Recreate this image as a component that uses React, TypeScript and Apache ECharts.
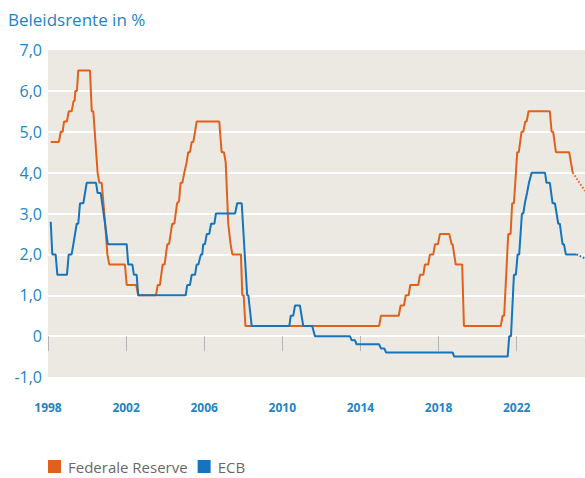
import React, { useEffect, useRef } from "react";
import * as echarts from "echarts";

const title = "Beleidsrente in %";
const seriesNames = ["Federale Reserve", "ECB"];
const xTickYears = [1998, 2002, 2006, 2010, 2014, 2018, 2022];
const yTicks = [-1, 0, 1, 2, 3, 4, 5, 6, 7];

const fedYears = [
  1998.14, 1998.56, 1998.65, 1998.75, 1998.82, 1998.97, 1999.06, 1999.21, 1999.31, 1999.36,
  1999.40, 1999.48, 1999.55, 2000.15, 2000.24, 2000.32, 2000.54, 2000.63, 2000.75, 2000.92,
  2001.04, 2001.14, 2001.94, 2002.03, 2002.52, 2002.62, 2003.53, 2003.62, 2003.73, 2003.87,
  2003.97, 2004.11, 2004.20, 2004.36, 2004.47, 2004.61, 2004.71, 2004.79, 2004.88, 2004.98,
  2005.10, 2005.18, 2005.27, 2005.36, 2005.44, 2005.53, 2005.61, 2006.77, 2006.89, 2007.01,
  2007.10, 2007.23, 2007.35, 2007.44, 2007.88, 2007.95, 2008.02, 2008.11, 2014.96, 2015.05,
  2015.96, 2016.06, 2016.23, 2016.32, 2016.47, 2016.55, 2016.96, 2017.05, 2017.22, 2017.30,
  2017.47, 2017.56, 2017.73, 2017.82, 2017.97, 2018.07, 2018.55, 2018.67, 2018.72, 2018.88,
  2019.21, 2019.30, 2021.19, 2021.28, 2021.36, 2021.57, 2021.69, 2021.77, 2021.86, 2022.03,
  2022.11, 2022.25, 2022.34, 2022.44, 2022.51, 2022.61, 2023.70, 2023.79, 2023.87, 2024.01,
  2024.69, 2024.87,
];
const fedRates = [
  4.75, 4.75, 5.0, 5.0, 5.25, 5.25, 5.5, 5.5, 5.75, 5.75,
  6.0, 6.0, 6.5, 6.5, 5.5, 5.5, 4.0, 3.75, 3.75, 2.8,
  2.0, 1.75, 1.75, 1.25, 1.25, 1.0, 1.0, 1.25, 1.25, 1.75,
  1.75, 2.25, 2.25, 2.75, 2.75, 3.25, 3.3, 3.75, 3.75, 4.0,
  4.25, 4.5, 4.5, 4.75, 4.75, 5.0, 5.25, 5.25, 4.5, 4.5,
  4.25, 2.75, 2.25, 2.0, 2.0, 1.0, 1.0, 0.25, 0.25, 0.5,
  0.5, 0.75, 0.75, 1.0, 1.0, 1.25, 1.25, 1.5, 1.5, 1.75,
  1.75, 2.0, 2.0, 2.25, 2.25, 2.5, 2.5, 2.25, 2.25, 1.75,
  1.75, 0.25, 0.25, 0.5, 0.5, 2.5, 2.5, 3.25, 3.25, 4.5,
  4.5, 5.0, 5.0, 5.25, 5.25, 5.5, 5.5, 5.0, 5.0, 4.5,
  4.5, 4.0,
];
const fedForecastYears = [2024.87, 2025.5];
const fedForecastRates = [4.0, 3.55];

const ecbYears = [
  1998.14, 1998.22, 1998.39, 1998.48, 1998.97, 1999.06, 1999.21, 1999.30, 1999.47, 1999.55,
  1999.64, 1999.81, 1999.98, 2000.46, 2000.54, 2000.70, 2000.92, 2001.06, 2002.03, 2002.11,
  2002.32, 2002.40, 2002.54, 2002.62, 2005.05, 2005.13, 2005.27, 2005.36, 2005.53, 2005.61,
  2005.70, 2005.83, 2005.90, 2005.95, 2006.04, 2006.13, 2006.26, 2006.35, 2006.52, 2006.60,
  2007.58, 2007.69, 2007.92, 2008.20, 2008.26, 2008.43, 2010.36, 2010.43, 2010.56, 2010.65,
  2010.90, 2011.07, 2011.53, 2011.67, 2013.46, 2013.55, 2013.72, 2013.80, 2014.96, 2015.05,
  2015.22, 2015.31, 2018.72, 2018.80, 2021.54, 2021.62, 2021.71, 2021.86, 2021.96, 2022.05,
  2022.13, 2022.27, 2022.34, 2022.42, 2022.53, 2022.63, 2022.77, 2023.45, 2023.53, 2023.70,
  2023.84, 2023.96, 2024.13, 2024.21, 2024.35, 2024.42, 2024.52, 2025.07,
];
const ecbRates = [
  2.8, 2.0, 2.0, 1.5, 1.5, 2.0, 2.0, 2.25, 2.75, 2.75,
  3.25, 3.25, 3.75, 3.75, 3.5, 3.5, 2.75, 2.25, 2.25, 1.75,
  1.75, 1.5, 1.5, 1.0, 1.0, 1.25, 1.25, 1.5, 1.5, 1.75,
  1.75, 2.0, 2.0, 2.25, 2.25, 2.5, 2.5, 2.75, 2.75, 3.0,
  3.0, 3.25, 3.25, 1.0, 1.0, 0.25, 0.25, 0.5, 0.5, 0.75,
  0.75, 0.25, 0.25, 0.0, 0.0, -0.1, -0.1, -0.2, -0.2, -0.3,
  -0.3, -0.4, -0.4, -0.5, -0.5, 0.0, 0.0, 1.5, 1.5, 2.0,
  2.0, 3.0, 3.0, 3.25, 3.5, 3.75, 4.0, 4.0, 3.75, 3.75,
  3.25, 3.25, 2.75, 2.75, 2.25, 2.25, 2.0, 2.0,
];
const ecbForecastYears = [2025.07, 2025.5];
const ecbForecastRates = [2.0, 1.9];

const ORANGE = "#e0611b";
const BLUE = "#1574bb";
const LABEL_BLUE = "#2384c6";
const FONT = "'Open Sans', 'Noto Sans', sans-serif";

const zip = (xs: number[], ys: number[]) => xs.map((x, i) => [x, ys[i]]);

export default function App() {
  const ref = useRef<HTMLDivElement>(null);
  useEffect(() => {
    if (!ref.current) return;
    const chart = echarts.init(ref.current, undefined, { renderer: "svg" });
    chart.setOption({
      animation: false,
      backgroundColor: "#ffffff",
      title: {
        text: title,
        left: 8,
        top: 11,
        padding: 0,
        textStyle: { color: LABEL_BLUE, fontSize: 17, fontWeight: "normal", fontFamily: FONT },
      },
      legend: {
        data: seriesNames,
        left: 48,
        top: 459,
        padding: 0,
        icon: "rect",
        itemWidth: 13,
        itemHeight: 13,
        itemGap: 10,
        textStyle: { color: "#6b6868", fontSize: 15, fontFamily: FONT, padding: [0, 0, 0, 2] },
      },
      grid: {
        left: 48,
        right: 0,
        top: 50,
        bottom: 101,
        show: true,
        backgroundColor: "#ece9e3",
        borderWidth: 0,
      },
      xAxis: {
        type: "value",
        min: 1998,
        max: 2025.5,
        axisLine: { show: false },
        axisTick: {
          show: true,
          length: 15,
          customValues: xTickYears,
          lineStyle: { color: "#b4b4b4", width: 1 },
        },
        axisLabel: {
          customValues: xTickYears,
          color: LABEL_BLUE,
          fontWeight: "bold",
          fontSize: 12,
          fontFamily: FONT,
          margin: 24,
          formatter: (v: number) => String(v),
        },
        splitLine: { show: false },
      },
      yAxis: {
        type: "value",
        min: yTicks[0],
        max: yTicks[yTicks.length - 1],
        interval: 1,
        axisLine: { show: false },
        axisTick: { show: false },
        axisLabel: {
          color: LABEL_BLUE,
          fontSize: 16,
          fontFamily: FONT,
          margin: 6,
          padding: [0, 0, 6, 0],
          formatter: (v: number) => (v === 0 ? "0" : v.toFixed(1).replace(".", ",")),
        },
        splitLine: {
          show: true,
          showMinLine: false,
          showMaxLine: false,
          lineStyle: { color: "#ffffff", width: 2 },
        },
      },
      series: [
        {
          name: seriesNames[0],
          type: "line",
          data: zip(fedYears, fedRates),
          showSymbol: false,
          symbol: "none",
          lineStyle: { color: ORANGE, width: 2 },
          itemStyle: { color: ORANGE },
          z: 2,
        },
        {
          name: seriesNames[1],
          type: "line",
          data: zip(ecbYears, ecbRates),
          showSymbol: false,
          symbol: "none",
          lineStyle: { color: BLUE, width: 2 },
          itemStyle: { color: BLUE },
          z: 3,
        },
        {
          name: "fedForecast",
          type: "line",
          data: zip(fedForecastYears, fedForecastRates),
          showSymbol: false,
          symbol: "none",
          lineStyle: { color: ORANGE, width: 2, type: [1.5, 2] },
          z: 2,
        },
        {
          name: "ecbForecast",
          type: "line",
          data: zip(ecbForecastYears, ecbForecastRates),
          showSymbol: false,
          symbol: "none",
          lineStyle: { color: BLUE, width: 2, type: [1.5, 2] },
          z: 3,
        },
      ],
    });
    return () => chart.dispose();
  }, []);
  return (
    <div
      ref={ref}
      style={{ position: "absolute", left: 0, top: 0, width: 585, height: 478 }}
    />
  );
}
